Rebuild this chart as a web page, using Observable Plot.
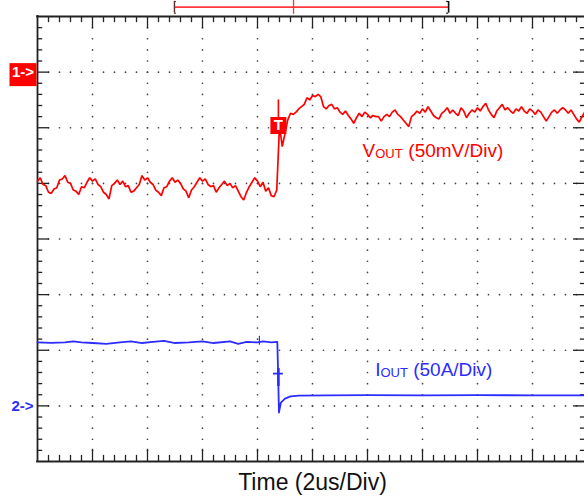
<!DOCTYPE html>
<html>
<head>
<meta charset="utf-8">
<script src="https://cdn.jsdelivr.net/npm/d3@7"></script>
<script src="https://cdn.jsdelivr.net/npm/@observablehq/plot@0.6"></script>
<style>
  html, body { margin: 0; padding: 0; background: #fff; overflow: hidden; }
</style>
</head>
<body>
<div id="chart"></div>
<script>
// ---- scope settings ----
const timePerDiv = 2;          // µs per division
const voltsPerDiv = 50;        // mV per division (CH1)
const ampsPerDiv = 50;         // A per division (CH2)
const divisionsX = 10;
const divisionsY = 8;
const subDivisions = 5;
const ch1Ref = 3;              // CH1 ground marker, divisions above centre
const ch2Ref = -3;             // CH2 ground marker, divisions below centre
const sampleStep = 0.1;        // µs between CH1 samples

// ---- CH1: VOUT (mV, relative to the 1-> marker), one sample every 0.1 µs ----
const voutMv = [
  -98, -95, -101, -102, -108, -109, -105, -104, -97, -96,
  -93, -99, -100, -106, -107, -110, -103, -104, -99, -95,
  -98, -96, -101, -103, -108, -110, -114, -102, -100, -97,
  -101, -98, -103, -102, -108, -107, -104, -101, -93, -97,
  -95, -99, -101, -106, -108, -111, -104, -103, -98, -95,
  -99, -97, -100, -105, -107, -113, -106, -103, -99, -95,
  -98, -96, -101, -103, -102, -108, -104, -101, -98, -102,
  -100, -104, -102, -107, -112, -115, -108, -103, -99, -95,
  -98, -103, -99, -107, -104, -111, -112, -106,
  -48, -67, -55, -43, -37, -38, -36, -33, -31, -29,
  -23, -25, -21, -22, -20, -22, -31, -33, -30, -29,
  -33, -32, -36, -38, -35, -39, -42, -46, -41, -37,
  -40, -36, -38, -41, -39, -40, -40, -44, -40, -38,
  -40, -36, -34, -38, -40, -43, -46, -49, -40, -38,
  -35, -37, -33, -36, -31, -35, -39, -41, -42, -37,
  -35, -32, -37, -34, -37, -39, -32, -35, -41, -37,
  -34, -36, -32, -35, -31, -28, -34, -38, -41, -35,
  -32, -29, -34, -32, -35, -37, -33, -35, -31, -35,
  -37, -33, -35, -38, -34, -36, -40, -44, -40, -36,
  -34, -37, -34, -32, -34, -37, -34, -38, -42, -45,
  -40, -36, -38
];

// ---- CH2: IOUT (A, relative to the 2-> marker) ----
const ioutTime = [0, 0.5, 1.0, 1.3, 1.6, 2.0, 2.5, 3.0, 3.4, 3.8, 4.2, 4.6, 5.0, 5.5, 6.0, 6.4, 7.0, 7.3, 7.6, 8.0, 8.2, 8.5, 8.72, 8.75, 8.78, 8.85, 9.0, 9.2, 9.5, 10.5, 12.0, 14.0, 16.0, 18.0, 20.0];
const ioutAmp  = [57, 56.7, 57, 58, 57, 56.5, 55.8, 57, 58, 56.5, 57.6, 58.5, 56.5, 57, 58, 56.5, 58, 55.8, 57.6, 57, 58, 57, 57.6, 30, -6, 3, 6.5, 8.5, 9.3, 9.5, 9.6, 9.5, 9.6, 9.5, 9.5];

// ---- markers ----
const triggerTime = 8.76;               // µs
const ch1MarkerMv = [-48, -25];         // T box level, top of its stem
const ch2MarkerAmp = [29, 33.6, 17.4];  // bar level, stem top, stem bottom
const ch2CursorTime = 8.07;
const ch2CursorAmp = [62.5, 54.5];
const recordWindow = [4.98, 14.95];     // µs, record indicator above the graticule
const recordTrigger = 9.31;
const recordLevel = [4.167, 4.06, 4.27]; // divisions above centre

// ---- labels ----
const voutLabel = ["V", "OUT", " (50mV/Div)"];
const voutLabelPos = [11.82, 1.483];     // µs, divisions
const ioutLabel = ["I", "OUT", " (50A/Div)"];
const ioutLabelPos = [12.28, -2.454];
const timeLabel = "Time (2us/Div)";
const timeLabelPos = [10, -4.52];
const ch1Tag = "1->";
const ch2Tag = "2->";

const red = "#ff0000";
const blue = "#2c2cff";
const ink = "#222";

const ch1 = mv => ch1Ref + mv / voltsPerDiv;
const ch2 = a => ch2Ref + a / ampsPerDiv;

const tMax = divisionsX * timePerDiv;
const yMax = divisionsY / 2;
const gridT = d3.range(1, divisionsX).map(i => i * timePerDiv);
const gridY = d3.range(-yMax + 1, yMax);
const subT = d3.range(1, divisionsX * subDivisions).map(i => i * timePerDiv / subDivisions);
const subY = d3.range(-yMax * subDivisions + 1, yMax * subDivisions).map(i => i / subDivisions);
const isMajorT = t => Math.abs(t / timePerDiv - Math.round(t / timePerDiv)) < 1e-6;
const isMajorY = y => Math.abs(y - Math.round(y)) < 1e-6;

const dots = [
  ...gridY.flatMap(y => subT.map(t => ({t, y}))),
  ...gridT.flatMap(t => subY.map(y => ({t, y})))
];

const rectSymbol = (w, h) => ({draw(ctx) { ctx.rect(-w / 2, -h / 2, w, h); }});

const voutData = voutMv.map((v, i) => ({t: i * sampleStep, v}));
const ioutData = ioutTime.map((t, i) => ({t, a: ioutAmp[i]}));

const chart = Plot.plot({
  width: 584,
  height: 497,
  marginLeft: 37,
  marginTop: 16,
  marginRight: 0,
  marginBottom: 36,
  x: {domain: [0, tMax], range: [37, 587], axis: null},
  y: {domain: [-yMax, yMax], range: [461, 16], axis: null},
  style: {fontFamily: "'Liberation Sans', Arial, sans-serif", background: "#fff", overflow: "hidden"},
  marks: [
    // dotted graticule
    Plot.dot(dots, {x: "t", y: "y", r: 0.85, fill: "#444", stroke: null}),
    // edge ticks
    Plot.ruleX(subT, {x: d => d, y1: yMax, y2: d => yMax - (isMajorT(d) ? 0.22 : 0.11), stroke: ink, strokeWidth: 1.3}),
    Plot.ruleX(subT, {x: d => d, y1: -yMax, y2: d => -yMax + (isMajorT(d) ? 0.22 : 0.11), stroke: ink, strokeWidth: 1.3}),
    Plot.ruleY(subY, {y: d => d, x1: 0, x2: d => (isMajorY(d) ? 0.44 : 0.19), stroke: ink, strokeWidth: 1.3}),
    Plot.ruleY(subY, {y: d => d, x1: tMax, x2: d => tMax - (isMajorY(d) ? 0.51 : 0.26), stroke: ink, strokeWidth: 1.3}),
    // frame
    Plot.ruleX([0, tMax], {y1: -yMax, y2: yMax, stroke: ink, strokeWidth: 1.8, strokeLinecap: "square"}),
    Plot.ruleY([-yMax, yMax], {x1: 0, x2: tMax, stroke: ink, strokeWidth: 1.8, strokeLinecap: "square"}),

    // traces
    Plot.line(ioutData, {x: "t", y: d => ch2(d.a), stroke: blue, strokeWidth: 1.8}),
    Plot.line(voutData, {x: "t", y: d => ch1(d.v), stroke: red, strokeWidth: 1.7, strokeLinejoin: "miter"}),

    // CH2 markers
    Plot.ruleX([ch2CursorTime], {y1: ch2(ch2CursorAmp[0]), y2: ch2(ch2CursorAmp[1]), stroke: blue, strokeWidth: 1.2}),
    Plot.ruleY([ch2(ch2MarkerAmp[0])], {x1: triggerTime - 0.18, x2: triggerTime + 0.18, stroke: blue, strokeWidth: 1.8}),
    Plot.ruleX([triggerTime], {y1: ch2(ch2MarkerAmp[1]), y2: ch2(ch2MarkerAmp[2]), stroke: blue, strokeWidth: 2.6}),

    // CH1 trigger marker
    Plot.ruleX([triggerTime], {y1: ch1(ch1MarkerMv[0]), y2: ch1(ch1MarkerMv[1]), stroke: red, strokeWidth: 1.6}),
    Plot.dot([ch1(ch1MarkerMv[0])], {x: () => triggerTime, y: d => d, symbol: rectSymbol(16, 17), fill: red, stroke: null}),
    Plot.text(["T"], {x: () => triggerTime, y: () => ch1(ch1MarkerMv[0]), textAnchor: "middle", fill: "#fff", fontWeight: "bold", fontSize: 15}),

    // record indicator above the graticule
    Plot.ruleY([recordLevel[0]], {x1: recordWindow[0], x2: recordWindow[1], stroke: "#ff3a3a", strokeWidth: 1.7}),
    Plot.ruleX([recordWindow[0]], {y1: recordLevel[1], y2: recordLevel[2], stroke: "#553030", strokeWidth: 1.4}),
    Plot.ruleY([recordLevel[1], recordLevel[2]], {x1: recordWindow[0], x2: recordWindow[0] + 0.07, stroke: "#553030", strokeWidth: 1.2}),
    Plot.ruleX([recordWindow[1]], {y1: recordLevel[1], y2: recordLevel[2], stroke: "#111", strokeWidth: 1.6}),
    Plot.ruleY([recordLevel[1], recordLevel[2]], {x1: recordWindow[1] - 0.07, x2: recordWindow[1], stroke: "#111", strokeWidth: 1.2}),
    Plot.ruleX([recordTrigger], {y1: recordLevel[1] - 0.02, y2: recordLevel[2] + 0.02, stroke: "#ff3030", strokeWidth: 1.3}),

    // channel reference tags
    Plot.dot([ch1Ref], {y: d => d, frameAnchor: "left", dx: -14.5, dy: 2.5, symbol: rectSymbol(27, 23), fill: red, stroke: null}),
    Plot.text([ch1Ref], {y: d => d, text: () => ch1Tag, frameAnchor: "left", textAnchor: "middle", dx: -14.5, fill: "#fff", fontWeight: "bold", fontSize: 15}),
    Plot.text([ch2Ref], {y: d => d, text: () => ch2Tag, frameAnchor: "left", textAnchor: "middle", dx: -15, fill: blue, fontWeight: "bold", fontSize: 15}),

    // channel labels
    Plot.text([voutLabel[0]], {x: () => voutLabelPos[0], y: () => voutLabelPos[1], text: d => d, textAnchor: "start", lineAnchor: "bottom", fill: red, fontSize: 19}),
    Plot.text([voutLabel[1]], {x: () => voutLabelPos[0], y: () => voutLabelPos[1], text: d => d, textAnchor: "start", lineAnchor: "bottom", dx: 12.7, dy: 1, fill: red, fontSize: 13}),
    Plot.text([voutLabel[2]], {x: () => voutLabelPos[0], y: () => voutLabelPos[1], text: d => d, textAnchor: "start", lineAnchor: "bottom", dx: 40.5, fill: red, fontSize: 19}),
    Plot.text([ioutLabel[0]], {x: () => ioutLabelPos[0], y: () => ioutLabelPos[1], text: d => d, textAnchor: "start", lineAnchor: "bottom", fill: blue, fontSize: 19}),
    Plot.text([ioutLabel[1]], {x: () => ioutLabelPos[0], y: () => ioutLabelPos[1], text: d => d, textAnchor: "start", lineAnchor: "bottom", dx: 5.3, dy: 1, fill: blue, fontSize: 13}),
    Plot.text([ioutLabel[2]], {x: () => ioutLabelPos[0], y: () => ioutLabelPos[1], text: d => d, textAnchor: "start", lineAnchor: "bottom", dx: 32.7, fill: blue, fontSize: 19}),

    // time axis label
    Plot.text([timeLabel], {x: () => timeLabelPos[0], y: () => timeLabelPos[1], text: d => d, textAnchor: "middle", lineAnchor: "bottom", fill: "#111", fontSize: 23})
  ]
});

document.getElementById("chart").appendChild(chart);
</script>
</body>
</html>
